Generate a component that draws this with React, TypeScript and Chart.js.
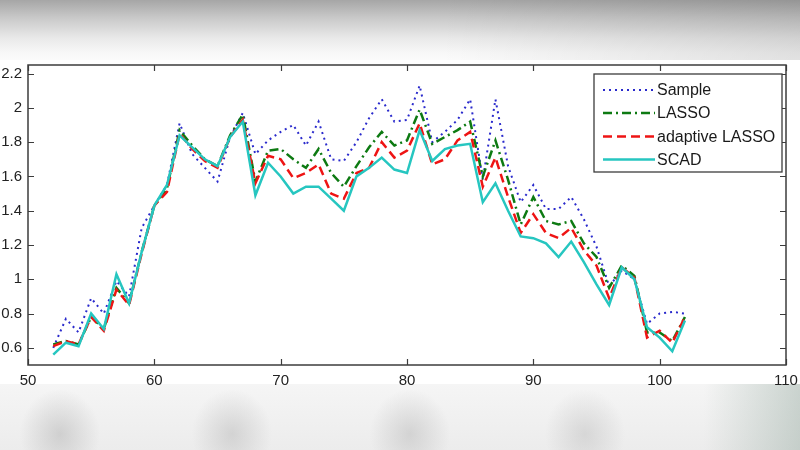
import React, { useEffect, useRef } from "react";
import { Chart, registerables } from "chart.js";

Chart.register(...registerables);

// ---- data ----
const xValues = [
  52, 53, 54, 55, 56, 57, 58, 59, 60, 61, 62, 63, 64, 65, 66, 67, 68, 69, 70, 71,
  72, 73, 74, 75, 76, 77, 78, 79, 80, 81, 82, 83, 84, 85, 86, 87, 88, 89, 90, 91,
  92, 93, 94, 95, 96, 97, 98, 99, 100, 101, 102,
];

const sampleValues = [
  0.6, 0.77, 0.69, 0.89, 0.8, 0.99, 0.9, 1.3, 1.43, 1.55, 1.91, 1.73, 1.65, 1.57, 1.83, 1.97, 1.73, 1.81, 1.86, 1.9,
  1.78, 1.92, 1.7, 1.69, 1.8, 1.94, 2.05, 1.92, 1.93, 2.13, 1.8, 1.86, 1.93, 2.05, 1.58, 2.05, 1.66, 1.45, 1.55, 1.41,
  1.41, 1.48, 1.35, 1.19, 0.96, 1.05, 1.0, 0.74, 0.8, 0.81, 0.8,
];

const lassoValues = [
  0.62, 0.64, 0.62, 0.78, 0.71, 0.95, 0.86, 1.16, 1.43, 1.53, 1.87, 1.78, 1.7, 1.66, 1.84, 1.96, 1.57, 1.75, 1.76, 1.7,
  1.65, 1.76, 1.62, 1.54, 1.66, 1.77, 1.86, 1.78, 1.81, 1.99, 1.79, 1.83, 1.87, 1.92, 1.6, 1.81, 1.58, 1.32, 1.48, 1.34,
  1.32, 1.34, 1.21, 1.13, 0.95, 1.08, 1.02, 0.69, 0.69, 0.64, 0.78,
];

const adaptiveLassoValues = [
  0.61, 0.64, 0.62, 0.78, 0.7, 0.94, 0.85, 1.15, 1.43, 1.51, 1.85, 1.76, 1.69, 1.65, 1.83, 1.93, 1.56, 1.72, 1.7, 1.59,
  1.62, 1.67, 1.5, 1.47, 1.62, 1.65, 1.8, 1.71, 1.75, 1.91, 1.67, 1.7, 1.81, 1.86, 1.54, 1.71, 1.48, 1.27, 1.38, 1.27,
  1.24, 1.3, 1.17, 1.08, 0.89, 1.07, 1.01, 0.66, 0.7, 0.63, 0.78,
];

const scadValues = [
  0.56, 0.63, 0.61, 0.8, 0.71, 1.03, 0.86, 1.16, 1.43, 1.55, 1.84, 1.77, 1.7, 1.66, 1.83, 1.92, 1.49, 1.68, 1.6, 1.5,
  1.54, 1.54, 1.47, 1.4, 1.6, 1.65, 1.71, 1.64, 1.62, 1.87, 1.69, 1.76, 1.78, 1.79, 1.45, 1.56, 1.4, 1.25, 1.24, 1.21,
  1.13, 1.22, 1.1, 0.97, 0.85, 1.07, 1.0, 0.72, 0.66, 0.58, 0.76,
];

const seriesLabels = ["Sample", "LASSO", "adaptive LASSO", "SCAD"];
const xTicks = [50, 60, 70, 80, 90, 100, 110];
const yTicks = [0.6, 0.8, 1, 1.2, 1.4, 1.6, 1.8, 2, 2.2];

const FONT = "'Liberation Sans', Arial, Helvetica, sans-serif";

const toPoints = (ys: number[]) => ys.map((y, i) => ({ x: xValues[i], y }));

const framePlugin = {
  id: "matlabFrame",
  afterDraw(chart: any) {
    const { ctx, chartArea } = chart;
    const { left, right, top, bottom } = chartArea;
    const xs = chart.scales.x;
    const ys = chart.scales.y;
    ctx.save();
    ctx.strokeStyle = "#3c3c3c";
    ctx.lineWidth = 1.5;
    ctx.setLineDash([]);
    ctx.strokeRect(left, top, right - left, bottom - top);
    const tl = 6;
    ctx.lineWidth = 1.2;
    ctx.beginPath();
    xTicks.forEach((v) => {
      const px = Math.round(xs.getPixelForValue(v)) + 0.5;
      ctx.moveTo(px, bottom);
      ctx.lineTo(px, bottom - tl);
      ctx.moveTo(px, top);
      ctx.lineTo(px, top + tl);
    });
    yTicks.forEach((v) => {
      const py = Math.round(ys.getPixelForValue(v)) + 0.5;
      ctx.moveTo(left, py);
      ctx.lineTo(left + tl, py);
      ctx.moveTo(right, py);
      ctx.lineTo(right - tl, py);
    });
    ctx.stroke();

    // legend box
    const bx = right - 192;
    const by = top + 9;
    const bw = 188;
    const bh = 98;
    ctx.fillStyle = "#ffffff";
    ctx.fillRect(bx, by, bw, bh);
    ctx.strokeStyle = "#3c3c3c";
    ctx.lineWidth = 1.3;
    ctx.strokeRect(bx, by, bw, bh);
    const rows = [16, 39, 62.5, 85.5];
    chart.data.datasets.forEach((ds: any, i: number) => {
      const y = by + rows[i];
      ctx.strokeStyle = ds.borderColor;
      ctx.lineWidth = ds.borderWidth;
      ctx.setLineDash(ds.borderDash || []);
      ctx.beginPath();
      ctx.moveTo(bx + 9, y);
      ctx.lineTo(bx + 61, y);
      ctx.stroke();
      ctx.setLineDash([]);
      ctx.fillStyle = "#1a1a1a";
      ctx.font = `16px ${FONT}`;
      ctx.textBaseline = "middle";
      ctx.textAlign = "left";
      ctx.fillText(ds.label, bx + 63, y + 1);
    });
    ctx.restore();
  },
};

export default function App() {
  const canvasRef = useRef<HTMLCanvasElement | null>(null);

  useEffect(() => {
    if (!canvasRef.current) return;
    const tickFont = { family: FONT, size: 15 };
    const chart = new Chart(canvasRef.current, {
      type: "line",
      data: {
        datasets: [
          {
            label: seriesLabels[0],
            data: toPoints(sampleValues),
            borderColor: "#2a2acc",
            borderWidth: 2,
            borderDash: [2, 4],
            pointRadius: 0,
            tension: 0,
            fill: false,
            order: 4,
          },
          {
            label: seriesLabels[1],
            data: toPoints(lassoValues),
            borderColor: "#0d7a12",
            borderWidth: 2.5,
            borderDash: [9, 4, 2, 4],
            pointRadius: 0,
            tension: 0,
            fill: false,
            order: 3,
          },
          {
            label: seriesLabels[2],
            data: toPoints(adaptiveLassoValues),
            borderColor: "#ee1414",
            borderWidth: 2.5,
            borderDash: [9, 5],
            pointRadius: 0,
            tension: 0,
            fill: false,
            order: 2,
          },
          {
            label: seriesLabels[3],
            data: toPoints(scadValues),
            borderColor: "#26c6c0",
            borderWidth: 2.5,
            pointRadius: 0,
            tension: 0,
            fill: false,
            order: 1,
          },
        ],
      },
      options: {
        animation: false,
        responsive: false,
        maintainAspectRatio: false,
        events: [],
        layout: { padding: { top: 65, right: 14, left: 0, bottom: 0 } },
        plugins: {
          legend: { display: false },
          tooltip: { enabled: false },
          title: { display: false },
        },
        scales: {
          x: {
            type: "linear",
            min: 50,
            max: 110,
            afterBuildTicks: (s: any) => {
              s.ticks = xTicks.map((v) => ({ value: v }));
            },
            afterFit: (s: any) => {
              s.height = 85;
              s.paddingLeft = 0;
              s.paddingRight = 0;
            },
            grid: { display: false, drawTicks: false },
            border: { display: false },
            ticks: {
              padding: 7,
              font: tickFont,
              color: "#222",
              maxRotation: 0,
              autoSkip: false,
              callback: (v: any) => String(v),
            },
          },
          y: {
            type: "linear",
            min: 0.5,
            max: 2.25,
            afterBuildTicks: (s: any) => {
              s.ticks = yTicks.map((v) => ({ value: v }));
            },
            afterFit: (s: any) => {
              s.width = 28;
              s.paddingTop = 0;
              s.paddingBottom = 0;
            },
            grid: { display: false, drawTicks: false },
            border: { display: false },
            ticks: {
              padding: 6,
              font: tickFont,
              color: "#222",
              autoSkip: false,
              callback: (v: any) => String(Number(v).toFixed(1)).replace(/\.0$/, ""),
            },
          },
        },
      },
      plugins: [framePlugin],
    } as any);
    return () => chart.destroy();
  }, []);

  return (
    <div
      style={{
        position: "absolute",
        left: 0,
        top: 0,
        width: 800,
        height: 450,
        overflow: "hidden",
        background: "#ffffff",
      }}
    >
      <div
        style={{
          position: "absolute",
          left: 0,
          top: 0,
          width: 800,
          height: 60,
          background:
            "linear-gradient(to right, rgba(0,0,0,0) 55%, rgba(0,0,0,0.10) 100%), linear-gradient(to bottom, #a6a6a6 0px, #c9c9c9 18px, #e9e9e9 38px, #f7f7f7 52px, #fbfbfb 60px)",
        }}
      />
      <div
        style={{
          position: "absolute",
          left: 0,
          top: 384,
          width: 800,
          height: 66,
          background:
            "radial-gradient(ellipse 40px 45px at 60px 50px, rgba(170,170,170,0.45), rgba(170,170,170,0) 100%), radial-gradient(ellipse 40px 45px at 232px 50px, rgba(170,170,170,0.4), rgba(170,170,170,0) 100%), radial-gradient(ellipse 40px 45px at 410px 50px, rgba(170,170,170,0.4), rgba(170,170,170,0) 100%), radial-gradient(ellipse 40px 45px at 585px 50px, rgba(170,170,170,0.35), rgba(170,170,170,0) 100%), linear-gradient(to right, rgba(0,0,0,0) 88%, rgba(150,170,160,0.45) 100%), linear-gradient(to bottom, #f5f5f5, #ececec)",
        }}
      />
      <canvas
        ref={canvasRef}
        width={800}
        height={450}
        style={{ position: "absolute", left: 0, top: 0, width: 800, height: 450 }}
      />
    </div>
  );
}
